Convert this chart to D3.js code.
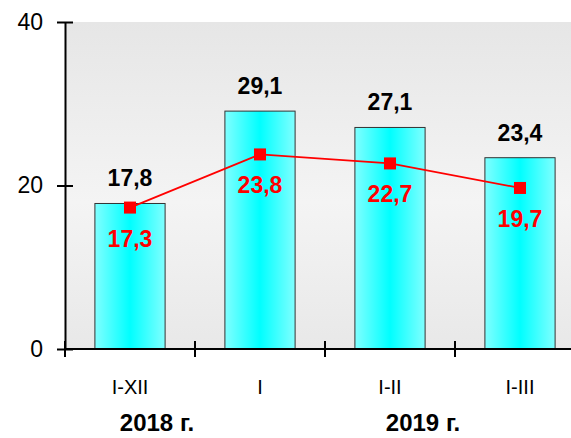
<!DOCTYPE html>
<html>
<head>
<meta charset="utf-8">
<script src="https://cdn.jsdelivr.net/npm/d3@7"></script>
<style>
  body { margin: 0; background: #fff; }
  text { font-family: "Liberation Sans", Arial, sans-serif; }
</style>
</head>
<body>
<div id="chart"></div>
<script>
// categories and values
const categories = ["I-XII", "I", "I-II", "I-III"];
const barValues = [17.8, 29.1, 27.1, 23.4];
const lineValues = [17.3, 23.8, 22.7, 19.7];
const yTicks = [0, 20, 40];
const yearLabels = ["2018 г.", "2019 г."];
const yearAnchors = ["I-XII", "I-II"];

const svgWidth = 571;
const svgHeight = 438;
const x0 = 65, plotTop = 22, plotBottom = 349;

const svg = d3.select('#chart')
  .append('svg')
  .attr('width', svgWidth)
  .attr('height', svgHeight);

const x = d3.scaleBand()
  .domain(categories)
  .range([x0, x0 + 520]);

const y = d3.scaleLinear()
  .domain([0, 40])
  .range([plotBottom, plotTop]);

const fmt = v => String(v).replace('.', ',');

const defs = svg.append('defs');
const bg = defs.append('linearGradient').attr('id', 'bg')
  .attr('x1', 0).attr('y1', 0).attr('x2', 0).attr('y2', 1);
bg.append('stop').attr('offset', '0%').attr('stop-color', '#e6e6e6');
bg.append('stop').attr('offset', '55%').attr('stop-color', '#f4f4f4');
bg.append('stop').attr('offset', '100%').attr('stop-color', '#e8e8e8');

const barGrad = defs.append('linearGradient').attr('id', 'barGrad')
  .attr('x1', 0).attr('y1', 0).attr('x2', 1).attr('y2', 0);
barGrad.append('stop').attr('offset', '0%').attr('stop-color', '#80ffff');
barGrad.append('stop').attr('offset', '50%').attr('stop-color', '#00ffff');
barGrad.append('stop').attr('offset', '100%').attr('stop-color', '#80ffff');

// plot background
svg.append('rect')
  .attr('x', x0)
  .attr('y', plotTop)
  .attr('width', svgWidth - x0)
  .attr('height', plotBottom - plotTop)
  .attr('fill', 'url(#bg)');

const barW = x.bandwidth() * 0.54;
const cx = d => x(d) + x.bandwidth() / 2;

// bars
svg.selectAll('.bar')
  .data(categories)
  .enter().append('rect')
  .attr('class', 'bar')
  .attr('x', d => cx(d) - barW / 2)
  .attr('y', (d, i) => y(barValues[i]))
  .attr('width', barW)
  .attr('height', (d, i) => y(0) - y(barValues[i]))
  .attr('fill', 'url(#barGrad)')
  .attr('stroke', '#333')
  .attr('stroke-width', 1);

// y axis
const yAxis = svg.append('g')
  .attr('transform', `translate(${x0},0)`)
  .call(d3.axisLeft(y).tickValues(yTicks).tickSize(8).tickSizeOuter(0).tickPadding(14));
yAxis.select('.domain').attr('stroke', '#000').attr('stroke-width', 2);
yAxis.selectAll('.tick line').attr('x2', 8).attr('x1', -8).attr('stroke-width', 2);
yAxis.selectAll('.tick text')
  .style('font-size', '23px')
  .attr('fill', '#000')
  .attr('x', -22);

// x axis
const xAxis = svg.append('g')
  .attr('transform', `translate(0,${plotBottom})`)
  .call(d3.axisBottom(x).tickSize(0).tickSizeOuter(0).tickPadding(31));
xAxis.select('.domain').attr('d', `M${x0},0H${svgWidth}`).attr('stroke', '#000').attr('stroke-width', 2);
xAxis.selectAll('.tick text')
  .style('font-size', '20px')
  .attr('fill', '#000');

// boundary ticks between categories
xAxis.selectAll('.sep')
  .data(categories)
  .enter().append('line')
  .attr('class', 'sep')
  .attr('x1', d => x(d)).attr('x2', d => x(d))
  .attr('y1', -8).attr('y2', 8)
  .attr('stroke', '#000').attr('stroke-width', 2);

// year labels
svg.selectAll('.year')
  .data(yearLabels)
  .enter().append('text')
  .attr('class', 'year')
  .attr('x', (d, i) => cx(yearAnchors[i]) + (i === 0 ? 27 : 33))
  .attr('y', 431)
  .attr('text-anchor', 'middle')
  .style('font-size', '24px')
  .style('font-weight', 'bold')
  .text(d => d);

// bar value labels
svg.selectAll('.barLabel')
  .data(categories)
  .enter().append('text')
  .attr('class', 'barLabel')
  .attr('x', d => cx(d))
  .attr('y', (d, i) => y(barValues[i]) - 17)
  .attr('text-anchor', 'middle')
  .style('font-size', '23px')
  .style('font-weight', 'bold')
  .attr('fill', '#000')
  .text((d, i) => fmt(barValues[i]));

// line
const line = d3.line()
  .x(d => cx(d))
  .y((d, i) => y(lineValues[i]));

svg.append('path')
  .datum(categories)
  .attr('d', line)
  .attr('fill', 'none')
  .attr('stroke', '#ff0000')
  .attr('stroke-width', 1.8);

svg.selectAll('.pt')
  .data(categories)
  .enter().append('rect')
  .attr('class', 'pt')
  .attr('x', d => cx(d) - 6)
  .attr('y', (d, i) => y(lineValues[i]) - 6)
  .attr('width', 12)
  .attr('height', 12)
  .attr('fill', '#ff0000');

svg.selectAll('.lineLabel')
  .data(categories)
  .enter().append('text')
  .attr('class', 'lineLabel')
  .attr('x', d => cx(d))
  .attr('y', (d, i) => y(lineValues[i]) + 39)
  .attr('text-anchor', 'middle')
  .style('font-size', '23px')
  .style('font-weight', 'bold')
  .attr('fill', '#ff0000')
  .text((d, i) => fmt(lineValues[i]));
</script>
</body>
</html>
